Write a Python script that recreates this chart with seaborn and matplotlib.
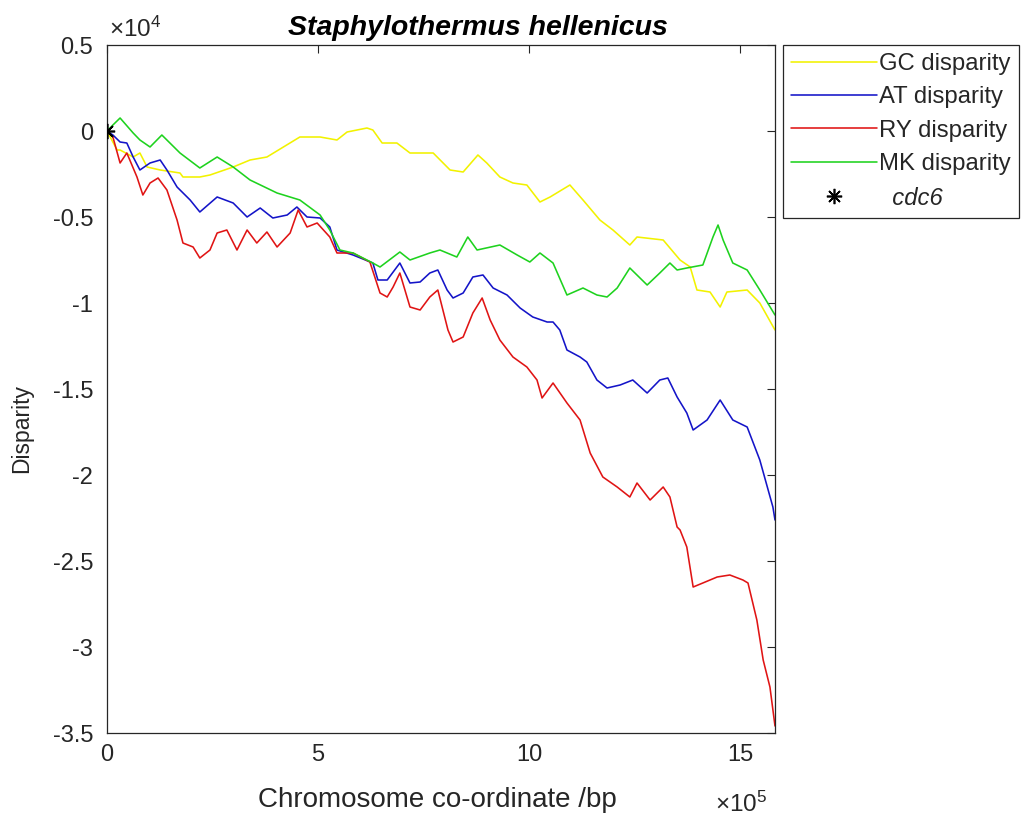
import matplotlib
matplotlib.use("Agg")
import matplotlib.pyplot as plt
import matplotlib.ticker as mticker
from matplotlib.lines import Line2D
import numpy as np
import pandas as pd
import seaborn as sns

# ---------------- data (x in kbp, y = cumulative disparity) ----------------
gc_x = [0, 24, 31, 62, 78, 95, 126, 173, 180, 220, 244, 299, 339, 379, 457, 505, 545, 569, 616, 630,
        652, 687, 718, 773, 813, 844, 879, 900, 931, 962, 995, 1026, 1050, 1097, 1128, 1168, 1199, 1239,
        1256, 1318, 1358, 1382, 1398, 1429, 1453, 1469, 1517, 1547, 1583]
gc_y = [0, -1105, -1105, -1512, -1279, -2093, -2267, -2442, -2674, -2674, -2558, -2093, -1686, -1512,
        -349, -349, -523, -58, 174, 58, -698, -698, -1279, -1279, -2267, -2384, -1395, -1860, -2674,
        -3023, -3140, -4128, -3837, -3140, -4012, -5174, -5756, -6628, -6163, -6337, -7500, -7907,
        -9244, -9361, -10233, -9361, -9244, -10000, -11570]

at_x = [0, 14, 31, 47, 62, 78, 102, 126, 142, 166, 197, 220, 261, 299, 332, 363, 393, 427, 450, 474,
        505, 528, 545, 583, 630, 642, 664, 694, 718, 742, 765, 784, 806, 820, 844, 867, 891, 915, 948,
        979, 1009, 1043, 1057, 1073, 1090, 1121, 1137, 1161, 1185, 1216, 1246, 1280, 1310, 1329, 1351,
        1374, 1389, 1422, 1453, 1483, 1517, 1547, 1578, 1583]
at_y = [0, -233, -640, -698, -1512, -2267, -1860, -1686, -2267, -3256, -4012, -4709, -3837, -4186,
        -5000, -4477, -5058, -4884, -4419, -5000, -5058, -5581, -6919, -7209, -7675, -8663, -8663,
        -7675, -8837, -8779, -8256, -8081, -9244, -9709, -9419, -8488, -8372, -9128, -9535, -10291,
        -10814, -11105, -11105, -11570, -12733, -13140, -13430, -14477, -14942, -14767, -14477,
        -15233, -14477, -14360, -15465, -16395, -17384, -16802, -15640, -16802, -17209, -19128,
        -21860, -22616]

ry_x = [0, 14, 31, 47, 71, 85, 102, 121, 142, 166, 180, 204, 220, 244, 261, 284, 308, 332, 355, 379,
        403, 434, 453, 474, 498, 528, 545, 583, 623, 647, 664, 678, 694, 718, 742, 765, 784, 808, 820,
        844, 867, 889, 908, 931, 962, 995, 1019, 1031, 1057, 1090, 1121, 1145, 1175, 1209, 1239, 1256,
        1287, 1318, 1334, 1351, 1358, 1374, 1389, 1412, 1446, 1476, 1507, 1519, 1540, 1555, 1571, 1583]
ry_y = [0, -349, -1860, -1279, -2674, -3721, -3023, -2733, -3430, -5174, -6512, -6744, -7384, -6919,
        -5930, -5756, -6919, -5756, -6512, -5872, -6744, -5930, -4593, -5581, -5349, -6163, -7093,
        -7093, -7616, -9419, -9651, -9070, -8256, -10233, -10407, -9651, -9244, -11570, -12268,
        -11977, -10581, -9709, -10988, -12151, -13140, -13721, -14477, -15523, -14651, -15814,
        -16802, -18721, -20116, -20698, -21279, -20465, -21454, -20698, -21279, -23023, -23198,
        -24186, -26512, -26279, -25930, -25814, -26105, -26279, -28430, -30756, -32326, -34593]

mk_x = [0, 14, 31, 62, 78, 102, 130, 173, 220, 261, 299, 339, 403, 457, 505, 528, 552, 583, 630, 647,
        694, 718, 765, 789, 829, 855, 877, 931, 972, 1002, 1026, 1057, 1090, 1128, 1161, 1185, 1209,
        1239, 1280, 1310, 1334, 1351, 1374, 1412, 1436, 1448, 1460, 1483, 1517, 1547, 1583]
mk_y = [0, 349, 756, -116, -523, -930, -233, -1279, -2151, -1512, -2093, -2849, -3605, -4012, -4884,
        -5756, -6919, -7093, -7675, -7907, -7035, -7500, -7093, -6919, -7326, -6163, -6919, -6628,
        -7209, -7616, -7093, -7675, -9535, -9128, -9535, -9651, -9128, -7965, -8954, -8256, -7675,
        -8081, -7965, -7791, -6163, -5465, -6337, -7675, -8081, -9244, -10698]

cdc6_x = [0]
cdc6_y = [0]

series_names = ["GC disparity", "AT disparity", "RY disparity", "MK disparity"]
series_colors = ["#f2f200", "#1414c8", "#e01414", "#1ed21e"]
x_ticks = [0, 500, 1000, 1500]
y_ticks = [5000, 0, -5000, -10000, -15000, -20000, -25000, -30000, -35000]
title_text = "Staphylothermus hellenicus"

# ---------------- style ----------------
sns.set_style("white")
plt.rcParams["font.family"] = ["Liberation Sans", "DejaVu Sans"]
plt.rcParams["mathtext.fontset"] = "custom"
plt.rcParams["mathtext.rm"] = "Liberation Sans"
plt.rcParams["mathtext.it"] = "Liberation Sans:italic"
txt = "#262626"

fig = plt.figure(figsize=(10.24, 8.18), dpi=100)
ax = fig.add_axes([107 / 1024, 1 - 733 / 818, (775 - 107) / 1024, (733 - 45) / 818])

frames = []
for name, xs, ys in zip(series_names, [gc_x, at_x, ry_x, mk_x], [gc_y, at_y, ry_y, mk_y]):
    frames.append(pd.DataFrame({"pos": xs, "disp": ys, "series": name}))
df = pd.concat(frames, ignore_index=True)

lw = 1.15
handles = []
for name, col in zip(series_names, series_colors):
    sub = df[df["series"] == name]
    sns.lineplot(data=sub, x="pos", y="disp", color=col, linewidth=lw, sort=False,
                 estimator=None, ax=ax, legend=False)
    handles.append(Line2D([], [], color=col, linewidth=lw, label=name))

ast = (8, 2, 0)
ax.plot(cdc6_x, cdc6_y, linestyle="none", marker=ast, markersize=11, color="black",
        markeredgewidth=1.2, zorder=5)
handles.append(Line2D([], [], linestyle="none", marker=ast, markersize=11, color="black",
                      markeredgewidth=1.2, label="  cdc6"))

ax.set_xlim(0, 1583)
ax.set_ylim(-35000, 5000)
ax.set_xticks(x_ticks)
ax.set_yticks(y_ticks)
ax.xaxis.set_major_formatter(mticker.FuncFormatter(lambda v, p: f"{v / 100:g}"))
ax.yaxis.set_major_formatter(mticker.FuncFormatter(lambda v, p: f"{v / 1e4:g}"))
ax.tick_params(direction="in", length=6, width=0.8, colors=txt, labelsize=17,
               top=True, right=True, labelcolor=txt)
ax.tick_params(axis="y", pad=10)
ax.tick_params(axis="x", pad=8)
for s in ax.spines.values():
    s.set_visible(True)
    s.set_color(txt)
    s.set_linewidth(0.9)

ax.set_xlabel("Chromosome co-ordinate /bp", fontsize=20, color=txt)
ax.xaxis.set_label_coords(0.494, -0.097)
ax.xaxis.label.set_va("center")
ax.set_ylabel("Disparity", fontsize=16.5, color=txt)
ax.yaxis.set_label_coords(-0.128, 0.443)
ax.yaxis.label.set_va("center")

ax.set_title(title_text, fontsize=20.5, fontweight="bold", fontstyle="italic", color="black",
             x=0.555, pad=7)

ax.text(0.003, 1.004, r"$\times\mathregular{10^4}$", transform=ax.transAxes, fontsize=17.5,
        color=txt, ha="left", va="bottom")
ax.text(0.988, -0.103, r"$\times\mathregular{10^5}$", transform=ax.transAxes, fontsize=17.5,
        color=txt, ha="right", va="center")

leg = fig.legend(handles=handles, loc="upper left", bbox_to_anchor=(783 / 1024, 1 - 45 / 818),
                 fontsize=17.2, frameon=True, fancybox=False, edgecolor=txt, framealpha=1,
                 handlelength=3.6, handletextpad=0.1, labelspacing=0.48, borderpad=0.33,
                 borderaxespad=0)
leg.get_frame().set_linewidth(0.9)
for t in leg.get_texts():
    t.set_color(txt)
leg.get_texts()[-1].set_fontstyle("italic")

fig.savefig("out.png", dpi=100)
